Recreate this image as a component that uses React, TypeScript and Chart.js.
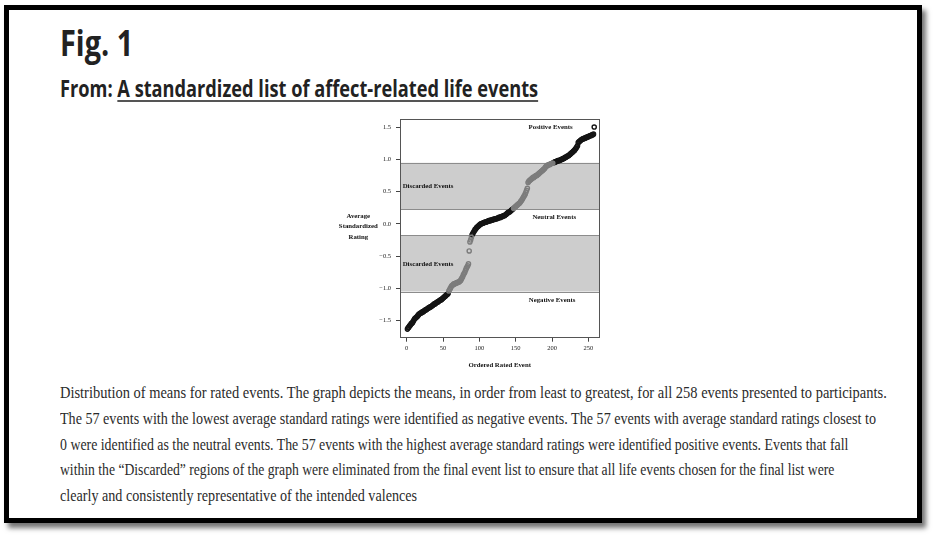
import React, { useEffect, useLayoutEffect, useRef, useState } from "react";
import { Chart, registerables } from "chart.js";

Chart.register(...registerables);

// ---- data (ordered mean standardized ratings of 258 events) ----
const negativeStart = 1;
const negativeEvents = [
  -1.63, -1.61, -1.60, -1.58, -1.57, -1.55, -1.54, -1.53, -1.51, -1.49,
  -1.47, -1.46, -1.45, -1.44, -1.43, -1.41, -1.40, -1.39, -1.38, -1.38,
  -1.37, -1.36, -1.36, -1.35, -1.34, -1.33, -1.33, -1.32, -1.31, -1.30,
  -1.30, -1.29, -1.28, -1.28, -1.27, -1.26, -1.25, -1.24, -1.24, -1.23,
  -1.22, -1.21, -1.21, -1.20, -1.19, -1.18, -1.18, -1.17, -1.16, -1.15,
  -1.14, -1.13, -1.12, -1.11, -1.10, -1.09, -1.08,
];
const discardedLowStart = 58;
const discardedLow = [
  -1.04, -1.02, -1.00, -0.98, -0.96, -0.95, -0.94,
  -0.93, -0.93, -0.92, -0.92, -0.91, -0.91, -0.90, -0.90, -0.89, -0.88,
  -0.86, -0.84, -0.82, -0.79, -0.77, -0.75, -0.72,
  -0.69, -0.67, -0.65, -0.62,
  -0.42,
  -0.28, -0.25, -0.21,
];
const neutralStart = 90;
const neutralEvents = [
  -0.17, -0.15, -0.13, -0.11, -0.09, -0.08, -0.06, -0.05, -0.04, -0.03,
  -0.02, -0.01, 0.00, 0.00, 0.01, 0.01, 0.02, 0.02, 0.03, 0.03, 0.03, 0.04, 0.04,
  0.05, 0.05, 0.05, 0.06, 0.06, 0.06, 0.07, 0.07, 0.07, 0.08,
  0.08, 0.08, 0.09, 0.09, 0.10, 0.10, 0.10, 0.11, 0.11, 0.12,
  0.12, 0.13, 0.13, 0.14, 0.15, 0.16, 0.17, 0.18, 0.18, 0.19, 0.20, 0.21, 0.22, 0.23,
];
const discardedHighStart = 147;
const discardedHigh = [
  0.24, 0.25, 0.26, 0.27, 0.28, 0.29, 0.30, 0.31, 0.32, 0.33, 0.35, 0.36,
  0.38, 0.40, 0.42, 0.44, 0.46, 0.49, 0.52, 0.55,
  0.64,
  0.66, 0.67, 0.68, 0.69, 0.70, 0.71, 0.72, 0.72, 0.73, 0.74, 0.75, 0.75, 0.76,
  0.77, 0.78, 0.79, 0.80, 0.81, 0.82, 0.83, 0.84, 0.85, 0.86, 0.88, 0.89, 0.90,
  0.91, 0.91, 0.92, 0.92, 0.93, 0.93, 0.94, 0.94,
];
const positiveStart = 202;
const positiveEvents = [
  0.95, 0.95, 0.96, 0.96, 0.97, 0.97, 0.98, 0.98, 0.98, 0.99, 0.99, 1.00, 1.00, 1.01, 1.01,
  1.02, 1.03, 1.03, 1.04, 1.05, 1.05, 1.06, 1.07, 1.08, 1.09, 1.10, 1.11, 1.12,
  1.13, 1.14, 1.16, 1.17, 1.19, 1.21,
  1.26, 1.27, 1.28, 1.29, 1.30,
  1.31, 1.31, 1.32, 1.32, 1.33, 1.33, 1.34, 1.34, 1.35, 1.35, 1.36, 1.36, 1.37, 1.37, 1.38, 1.38, 1.39,
  1.50,
];

const xTicks = [0, 50, 100, 150, 200, 250];
const yTicks = [-1.5, -1.0, -0.5, 0.0, 0.5, 1.0, 1.5];
const discardedBands = [
  [0.23, 0.946],
  [-1.048, -0.178],
];
const regionLabels = [
  { text: "Positive Events", x: 198, y: 1.5, align: "center" },
  { text: "Discarded Events", x: -5.5, y: 0.58, align: "left" },
  { text: "Neutral Events", x: 203, y: 0.1, align: "center" },
  { text: "Discarded Events", x: -5.5, y: -0.63, align: "left" },
  { text: "Negative Events", x: 200, y: -1.185, align: "center" },
];
const yTitleLines = ["Average", "Standardized", "Rating"];
const xTitle = "Ordered Rated Event";

const figTitle = "Fig. 1";
const fromLabel = "From: ";
const articleTitle = "A standardized list of affect-related life events";
const captionLines = [
  "Distribution of means for rated events. The graph depicts the means, in order from least to greatest, for all 258 events presented to participants.",
  "The 57 events with the lowest average standard ratings were identified as negative events. The 57 events with average standard ratings closest to",
  "0 were identified as the neutral events. The 57 events with the highest average standard ratings were identified positive events. Events that fall",
  "within the \u201cDiscarded\u201d regions of the graph were eliminated from the final event list to ensure that all life events chosen for the final list were",
  "clearly and consistently representative of the intended valences",
];
const captionWidths = [827, 816, 788, 774, 357];

const toPoints = (start: number, vals: number[]) =>
  vals.map((v, i) => ({ x: start + i, y: v }));

const SERIF = '"Liberation Serif", "DejaVu Serif", serif';

const overlayPlugin = {
  id: "overlay",
  beforeDatasetsDraw(chart: any) {
    const { ctx, chartArea, scales } = chart;
    const { left, right } = chartArea;
    ctx.save();
    for (const [lo, hi] of discardedBands) {
      const y1 = scales.y.getPixelForValue(hi);
      const y2 = scales.y.getPixelForValue(lo);
      ctx.fillStyle = "#cdcdcd";
      ctx.fillRect(left, y1, right - left, y2 - y1);
      ctx.strokeStyle = "#8c8c8c";
      ctx.lineWidth = 1;
      ctx.beginPath();
      ctx.moveTo(left, Math.round(y1) + 0.5);
      ctx.lineTo(right, Math.round(y1) + 0.5);
      ctx.moveTo(left, Math.round(y2) + 0.5);
      ctx.lineTo(right, Math.round(y2) + 0.5);
      ctx.stroke();
    }
    ctx.fillStyle = "#111";
    ctx.font = `bold 6.8px ${SERIF}`;
    ctx.textBaseline = "middle";
    for (const l of regionLabels) {
      ctx.textAlign = l.align as CanvasTextAlign;
      ctx.fillText(l.text, scales.x.getPixelForValue(l.x), scales.y.getPixelForValue(l.y));
    }
    ctx.restore();
  },
  afterDatasetsDraw(chart: any) {
    const { ctx, chartArea, scales } = chart;
    const { left, right, top, bottom } = chartArea;
    ctx.save();
    ctx.strokeStyle = "#555";
    ctx.lineWidth = 1;
    ctx.strokeRect(Math.round(left) + 0.5, Math.round(top) + 0.5, Math.round(right - left), Math.round(bottom - top));
    ctx.fillStyle = "#111";
    ctx.font = `bold 6.8px ${SERIF}`;
    ctx.textAlign = "center";
    ctx.textBaseline = "middle";
    const y0 = scales.y.getPixelForValue(0);
    yTitleLines.forEach((t, i) => {
      ctx.fillText(t, left - 41.7, y0 - 7.7 + i * 10.3);
    });
    ctx.fillText(xTitle, (left + right) / 2, bottom + 29);
    ctx.restore();
  },
};

function ScatterChart() {
  const ref = useRef<HTMLCanvasElement>(null);
  useEffect(() => {
    const black = "#141414";
    const gray = "#7c7c7c";
    const ds = (data: any[], color: string) => ({
      data,
      borderColor: color,
      backgroundColor: "rgba(0,0,0,0)",
      pointRadius: 2.1,
      pointBorderWidth: 1.4,
      pointHoverRadius: 2,
      showLine: false,
    });
    const chart = new Chart(ref.current!, {
      type: "scatter",
      data: {
        datasets: [
          ds(toPoints(discardedLowStart, discardedLow), gray),
          ds(toPoints(discardedHighStart, discardedHigh), gray),
          ds(toPoints(negativeStart, negativeEvents), black),
          ds(toPoints(neutralStart, neutralEvents), black),
          ds(toPoints(positiveStart, positiveEvents), black),
        ],
      },
      options: {
        animation: false,
        responsive: false,
        devicePixelRatio: 1,
        events: [],
        layout: { padding: { left: 0, right: 15.7, top: 6.7, bottom: 0 } },
        plugins: { legend: { display: false }, tooltip: { enabled: false } },
        scales: {
          x: {
            type: "linear",
            min: -9.2,
            max: 265,
            afterBuildTicks: (s: any) => {
              s.ticks = xTicks.map((v) => ({ value: v }));
            },
            afterFit: (s: any) => {
              s.height = 38.3;
            },
            grid: { drawOnChartArea: false, drawTicks: true, tickLength: 5, color: "#444", lineWidth: 1 },
            border: { display: false },
            ticks: { font: { family: SERIF, size: 6.5 }, color: "#222", padding: 3, maxRotation: 0, callback: (v: any) => String(v) },
          },
          y: {
            type: "linear",
            min: -1.748,
            max: 1.626,
            afterBuildTicks: (s: any) => {
              s.ticks = yTicks.map((v) => ({ value: v }));
            },
            afterFit: (s: any) => {
              s.width = 70;
            },
            grid: { drawOnChartArea: false, drawTicks: true, tickLength: 4, color: "#444", lineWidth: 1 },
            border: { display: false },
            ticks: {
              font: { family: SERIF, size: 6.5 },
              color: "#222",
              padding: 5,
              callback: (v: any) => {
                const n = Number(v);
                const s = Math.abs(n).toFixed(1);
                return n < 0 ? "\u2212" + s : s;
              },
            },
          },
        },
      },
      plugins: [overlayPlugin],
    });
    return () => chart.destroy();
  }, []);
  return <canvas ref={ref} width={285} height={265} style={{ position: "absolute", left: 330, top: 110, width: 285, height: 265 }} />;
}

function FitText({ left, top, width, style, children }: any) {
  const ref = useRef<HTMLSpanElement>(null);
  const [scale, setScale] = useState(1);
  useLayoutEffect(() => {
    const measure = () => {
      if (!ref.current) return;
      const w = ref.current.offsetWidth;
      if (w > 0) setScale(width / w);
    };
    measure();
    (document as any).fonts?.ready?.then(measure);
  }, [width]);
  return (
    <div style={{ position: "absolute", left, top, whiteSpace: "nowrap", transformOrigin: "0 0", transform: `scaleX(${scale})`, ...style }}>
      <span ref={ref} style={{ display: "inline-block" }}>{children}</span>
    </div>
  );
}

export default function App() {
  const titleFont = '"Open Sans", "DejaVu Sans", sans-serif';
  return (
    <div style={{ position: "absolute", left: 0, top: 0, width: 934, height: 536, background: "#fff", overflow: "hidden" }}>
      <div
        style={{
          position: "absolute",
          left: 4,
          top: 5,
          width: 918,
          height: 518,
          boxSizing: "border-box",
          border: "5px solid #000",
          boxShadow: "4px 5px 5px rgba(0,0,0,0.55)",
          background: "#fff",
        }}
      />
      <FitText left={60} top={25} width={73} style={{ fontFamily: titleFont, fontWeight: 700, fontSize: 36, lineHeight: "36px", color: "#222" }}>
        {figTitle}
      </FitText>
      <FitText left={60} top={76} width={478} style={{ fontFamily: titleFont, fontWeight: 700, fontSize: 24, lineHeight: "24px", color: "#222" }}>
        {fromLabel}
        <span style={{ textDecoration: "underline", textDecorationColor: "#555", textDecorationThickness: 2, textUnderlineOffset: 3 }}>{articleTitle}</span>
      </FitText>
      <ScatterChart />
      {captionLines.map((t, i) => (
        <FitText
          key={i}
          left={60}
          top={384 + i * 25.75}
          width={captionWidths[i]}
          style={{ fontFamily: SERIF, fontSize: 17, lineHeight: "17px", color: "#2a2a2a" }}
        >
          {t}
        </FitText>
      ))}
    </div>
  );
}
